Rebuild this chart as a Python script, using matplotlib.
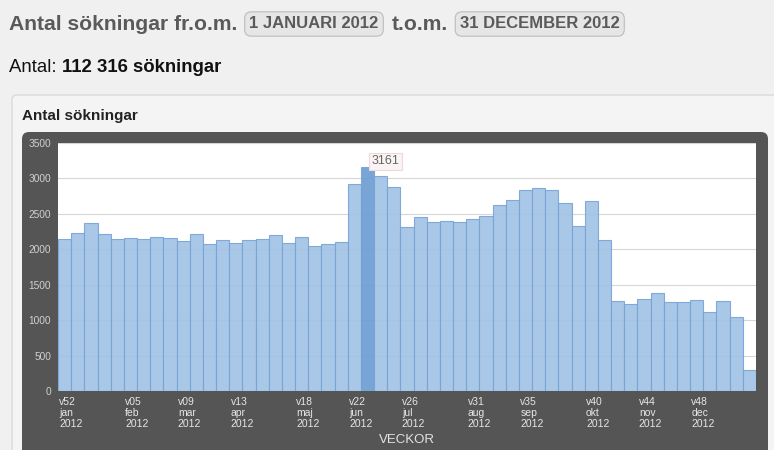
import numpy as np
import matplotlib
matplotlib.use('Agg')
import matplotlib.pyplot as plt
from matplotlib.patches import FancyBboxPatch

plt.rcParams['font.family'] = ['Liberation Sans', 'DejaVu Sans']

# weekly search counts, v52 (2011) .. v52 (2012)
values = [2150, 2235, 2370, 2220, 2140, 2165, 2150, 2180, 2165, 2120,
          2210, 2080, 2130, 2090, 2125, 2150, 2195, 2090, 2180, 2050,
          2075, 2105, 2920, 3161, 3030, 2885, 2320, 2450, 2385, 2405,
          2390, 2430, 2475, 2625, 2690, 2830, 2860, 2830, 2650, 2325,
          2685, 2135, 1275, 1225, 1295, 1385, 1250, 1255, 1290, 1120,
          1275, 1050, 290]
label_idx = [0, 5, 9, 13, 18, 22, 26, 31, 35, 40, 44, 48]
label_week = ['v52', 'v05', 'v09', 'v13', 'v18', 'v22', 'v26', 'v31', 'v35', 'v40', 'v44', 'v48']
label_month = ['jan', 'feb', 'mar', 'apr', 'maj', 'jun', 'jul', 'aug', 'sep', 'okt', 'nov', 'dec']
label_year = ['2012'] * 12
highlight = 23
y_ticks = [0, 500, 1000, 1500, 2000, 2500, 3000, 3500]

W, H = 774, 450
fig = plt.figure(figsize=(W / 100, H / 100), dpi=100, facecolor='#f0f0f0')

# background axes in pixel coordinates (y downwards)
bg = fig.add_axes([0, 0, 1, 1])
bg.set_xlim(0, W)
bg.set_ylim(H, 0)
bg.axis('off')

# panel + dark chart frame
bg.add_patch(FancyBboxPatch((12, 95), 790, 400, boxstyle='round,pad=0,rounding_size=5',
                            fc='#f4f4f4', ec='#dadada', lw=1))
bg.add_patch(FancyBboxPatch((22, 132), 746, 340, boxstyle='round,pad=0,rounding_size=7',
                            fc='#555555', ec='none'))

renderer = fig.canvas.get_renderer()


def put(x, y, s, extra=0, **kw):
    # write a piece of text and return the x where it ends (pixels)
    t = bg.text(x + extra, y, s, va='center', ha='left', **kw)
    bb = t.get_window_extent(renderer=renderer)
    return bb.x1 + extra


badge = dict(boxstyle='round,pad=0.28,rounding_size=0.4', fc='#e6e6e6', ec='#bcbcbc', lw=0.8)
x = put(9, 24, 'Antal sökningar fr.o.m.', fontsize=15.2, fontweight='bold', color='#5a5a5a')
x = put(x + 7, 24, '1 JANUARI 2012', extra=5, fontsize=12, fontweight='bold', color='#5a5a5a', bbox=badge)
x = put(x + 8, 24, 't.o.m.', fontsize=15.2, fontweight='bold', color='#5a5a5a')
x = put(x + 7, 24, '31 DECEMBER 2012', extra=5, fontsize=12, fontweight='bold', color='#5a5a5a', bbox=badge)

x = put(9, 67, 'Antal: ', fontsize=13.4, color='#111111')
put(x, 67, '112 316 sökningar', fontsize=13.4, fontweight='bold', color='#111111')

bg.text(22, 116, 'Antal sökningar', fontsize=11, fontweight='bold', color='#222222', va='center')
bg.text(407, 440, 'VECKOR', fontsize=9.5, color='#e2e2e2', ha='center', va='center')

# the bar chart
ax = fig.add_axes([58 / W, (H - 391) / H, 698 / W, 248 / H])
ax.set_facecolor('white')
n = len(values)
xs = np.arange(n)
colors = ['#a0c1e5'] * n
colors[highlight] = '#6a9bd2'
ax.bar(xs, values, width=1.0, color=colors, edgecolor='#76a3d6', linewidth=0.8, alpha=0.9, zorder=2)
ax.set_xlim(-0.5, n - 0.5)
ax.set_ylim(0, 3500)
ax.set_yticks(y_ticks)
ax.set_yticklabels([str(v) for v in y_ticks])
ax.grid(axis='y', color='#d6d6d6', lw=0.8, zorder=0)
ax.set_axisbelow(True)
for s in ax.spines.values():
    s.set_visible(False)
ax.tick_params(axis='y', length=0, pad=5, labelsize=7.3, labelcolor='#d0d0d0')

ticks = [i - 0.4 for i in label_idx]
labels = [w + '\n' + m + '\n' + y for w, m, y in zip(label_week, label_month, label_year)]
ax.set_xticks(ticks)
ax.set_xticklabels(labels, fontsize=7.5, color='#e6e6e6', linespacing=1.15,
                   ha='left', va='top', multialignment='left')
ax.tick_params(axis='x', length=0, pad=4)

ax.annotate(str(values[highlight]), xy=(highlight, values[highlight]), xytext=(18, 6),
            textcoords='offset pixels', ha='center', va='center', fontsize=9, color='#666666',
            bbox=dict(boxstyle='square,pad=0.2', fc='#fbf4f4', ec='#f0d8d8', lw=0.8), zorder=5)

fig.savefig('out.png', dpi=100, facecolor=fig.get_facecolor())
